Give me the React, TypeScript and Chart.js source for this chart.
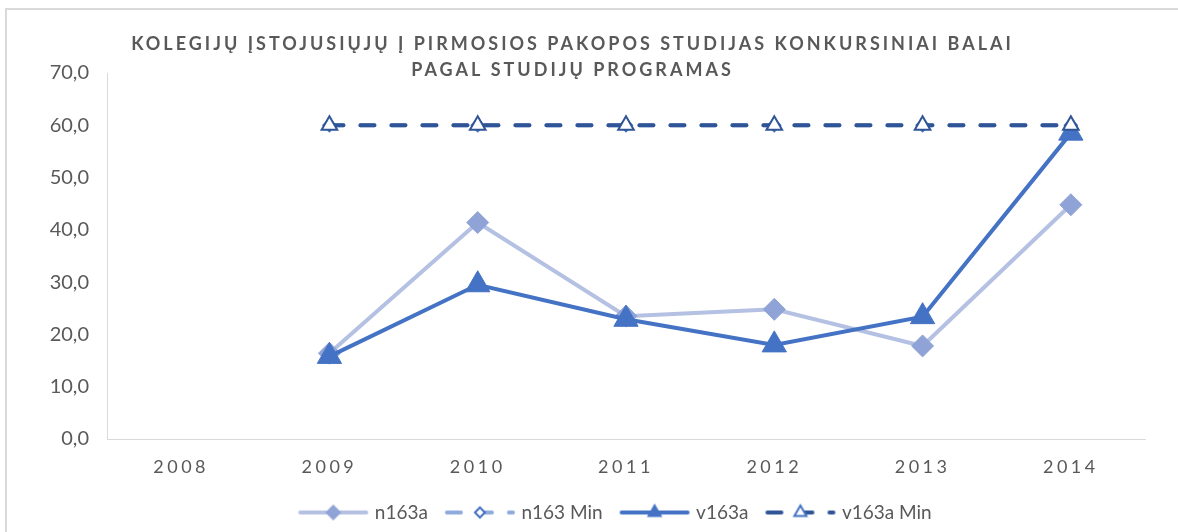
import React, { useEffect, useRef } from 'react';
import { Chart, registerables } from 'chart.js';

Chart.register(...registerables);

const categories = ['2008', '2009', '2010', '2011', '2012', '2013', '2014'];
const n163a = [null, 16.4, 41.4, 23.5, 24.8, 17.8, 44.8];
const n163Min = [null, 60, 60, 60, 60, 60, 60];
const v163a = [null, 15.8, 29.5, 22.9, 18.0, 23.4, 58.5];
const v163aMin = [null, 60, 60, 60, 60, 60, 60];
const titleLines = [
  'KOLEGIJŲ ĮSTOJUSIŲJŲ Į PIRMOSIOS PAKOPOS STUDIJAS KONKURSINIAI BALAI',
  'PAGAL STUDIJŲ PROGRAMAS',
];
const seriesNames = ['n163a', 'n163 Min', 'v163a', 'v163a Min'];

const FONT = 'Lato, "Open Sans", sans-serif';
const TEXT = '#595959';
const C_N = '#B4C1E3';
const C_NM = '#8FA3D6';
const C_NMIN = '#8FAADC';
const C_V = '#4472C4';
const C_VMIN = '#2F5597';
const DASH = [14, 17];
const LEGEND_SHIFT = 44;

type Sample = {
  color: string;
  dash?: number[];
  marker: 'rectRot' | 'triangle';
  fill: string;
  stroke: string;
  r: number;
  bw: number;
};

function makeSample(s: Sample): HTMLCanvasElement {
  const c = document.createElement('canvas');
  c.width = 72;
  c.height = 30;
  const g = c.getContext('2d')!;
  const cy = 15;
  g.strokeStyle = s.color;
  g.lineWidth = 4;
  g.lineCap = 'round';
  g.setLineDash(s.dash || []);
  g.beginPath();
  g.moveTo(3, cy);
  g.lineTo(69, cy);
  g.stroke();
  g.setLineDash([]);
  const cx = 36;
  g.beginPath();
  if (s.marker === 'rectRot') {
    g.moveTo(cx - s.r, cy);
    g.lineTo(cx, cy - s.r);
    g.lineTo(cx + s.r, cy);
    g.lineTo(cx, cy + s.r);
  } else {
    const r = s.r;
    g.moveTo(cx, cy - r);
    g.lineTo(cx + Math.sin((2 * Math.PI) / 3) * r, cy + r / 2);
    g.lineTo(cx - Math.sin((2 * Math.PI) / 3) * r, cy + r / 2);
  }
  g.closePath();
  g.fillStyle = s.fill;
  g.fill();
  if (s.bw > 0) {
    g.lineWidth = s.bw;
    g.strokeStyle = s.stroke;
    g.stroke();
  }
  return c;
}

const spacingPlugin = {
  id: 'spacingPlugin',
  afterLayout(chart: any) {
    const lg = chart.legend;
    if (lg) {
      lg.left += LEGEND_SHIFT;
      lg.right += LEGEND_SHIFT;
    }
  },
  beforeDraw(chart: any) {
    const wrap = (obj: any, key: string, sp: string) => {
      if (!obj || obj['__w_' + key]) return;
      const orig = obj[key].bind(obj);
      obj[key] = (...args: any[]) => {
        const ctx: any = chart.ctx;
        const prev = ctx.letterSpacing;
        ctx.letterSpacing = sp;
        orig(...args);
        ctx.letterSpacing = prev;
      };
      obj['__w_' + key] = true;
    };
    wrap(chart.titleBlock, 'draw', '3px');
    wrap(chart.scales.x, 'drawLabels', '3.5px');
  },
};

export default function App() {
  const ref = useRef<HTMLCanvasElement>(null);

  useEffect(() => {
    if (!ref.current) return;
    const samples = [
      makeSample({ color: C_N, marker: 'rectRot', fill: C_NM, stroke: C_NM, r: 8, bw: 0 }),
      makeSample({ color: C_NMIN, dash: DASH, marker: 'rectRot', fill: '#ffffff', stroke: C_V, r: 5, bw: 2 }),
      makeSample({ color: C_V, marker: 'triangle', fill: C_V, stroke: C_V, r: 9, bw: 0 }),
      makeSample({ color: C_VMIN, dash: DASH, marker: 'triangle', fill: '#ffffff', stroke: C_V, r: 7, bw: 2 }),
    ];
    const chart = new Chart(ref.current, {
      type: 'line',
      data: {
        labels: categories,
        datasets: [
          {
            label: seriesNames[0],
            data: n163a,
            order: 4,
            borderColor: C_N,
            borderWidth: 4,
            tension: 0,
            pointStyle: 'rectRot',
            pointRadius: 11,
            pointBackgroundColor: C_NM,
            pointBorderColor: C_NM,
            pointBorderWidth: 1,
          },
          {
            label: seriesNames[1],
            data: n163Min,
            order: 3,
            borderColor: C_NMIN,
            borderWidth: 4,
            borderDash: DASH,
            borderCapStyle: 'round',
            tension: 0,
            pointStyle: 'rectRot',
            pointRadius: 6,
            pointBackgroundColor: '#ffffff',
            pointBorderColor: C_V,
            pointBorderWidth: 2,
          },
          {
            label: seriesNames[2],
            data: v163a,
            order: 2,
            borderColor: C_V,
            borderWidth: 4,
            tension: 0,
            pointStyle: 'triangle',
            pointRadius: 14,
            pointBackgroundColor: C_V,
            pointBorderColor: C_V,
            pointBorderWidth: 1,
          },
          {
            label: seriesNames[3],
            data: v163aMin,
            order: 1,
            borderColor: C_VMIN,
            borderWidth: 4,
            borderDash: DASH,
            borderCapStyle: 'round',
            tension: 0,
            pointStyle: 'triangle',
            pointRadius: 9,
            pointBackgroundColor: '#ffffff',
            pointBorderColor: C_VMIN,
            pointBorderWidth: 2,
          },
        ] as any,
      },
      options: {
        responsive: false,
        animation: false,
        layout: { padding: { left: 0, right: 33, top: 0, bottom: 0 } },
        plugins: {
          title: {
            display: true,
            text: titleLines,
            color: TEXT,
            font: { family: FONT, size: 18, weight: 'bold', lineHeight: '26px' } as any,
            padding: { top: 31, bottom: -10 } as any,
          },
          legend: {
            position: 'bottom',
            labels: {
              usePointStyle: true,
              pointStyleWidth: 64,
              padding: 20,
              color: TEXT,
              font: { family: FONT, size: 19 },
              generateLabels: () =>
                seriesNames.map((name, i) => ({
                  text: name,
                  pointStyle: samples[i] as any,
                  fillStyle: 'transparent',
                  strokeStyle: 'transparent',
                  lineWidth: 0,
                  hidden: false,
                  datasetIndex: i,
                  fontColor: TEXT,
                })),
            },
          },
          tooltip: { enabled: false },
        },
        scales: {
          x: {
            offset: true,
            grid: { display: false, drawTicks: false },
            border: { display: true, color: '#d9d9d9', width: 1 },
            ticks: { color: TEXT, font: { family: FONT, size: 18 }, padding: 17 },
            afterFit: (s: any) => {
              s.height = 44;
            },
          },
          y: {
            min: 0,
            max: 70,
            grid: { display: false, drawTicks: false },
            border: { display: true, color: '#d9d9d9', width: 1 },
            ticks: {
              stepSize: 10,
              color: TEXT,
              font: { family: FONT, size: 20 },
              padding: 18,
              callback: (v: any) => Number(v).toFixed(1).replace('.', ','),
            },
            afterFit: (s: any) => {
              s.width = 107;
            },
          },
        },
      } as any,
      plugins: [spacingPlugin as any],
    });
    return () => chart.destroy();
  }, []);

  return (
    <div style={{ position: 'fixed', left: 0, top: 0, width: 1178, height: 532, background: '#ffffff' }}>
      <div
        style={{
          position: 'absolute',
          left: 5,
          top: 8,
          right: 0,
          bottom: 0,
          borderLeft: '2px solid #d9d9d9',
          borderTop: '2px solid #d9d9d9',
        }}
      />
      <canvas
        ref={ref}
        width={1178}
        height={532}
        style={{ position: 'absolute', left: 0, top: 0, width: 1178, height: 532 }}
      />
    </div>
  );
}
